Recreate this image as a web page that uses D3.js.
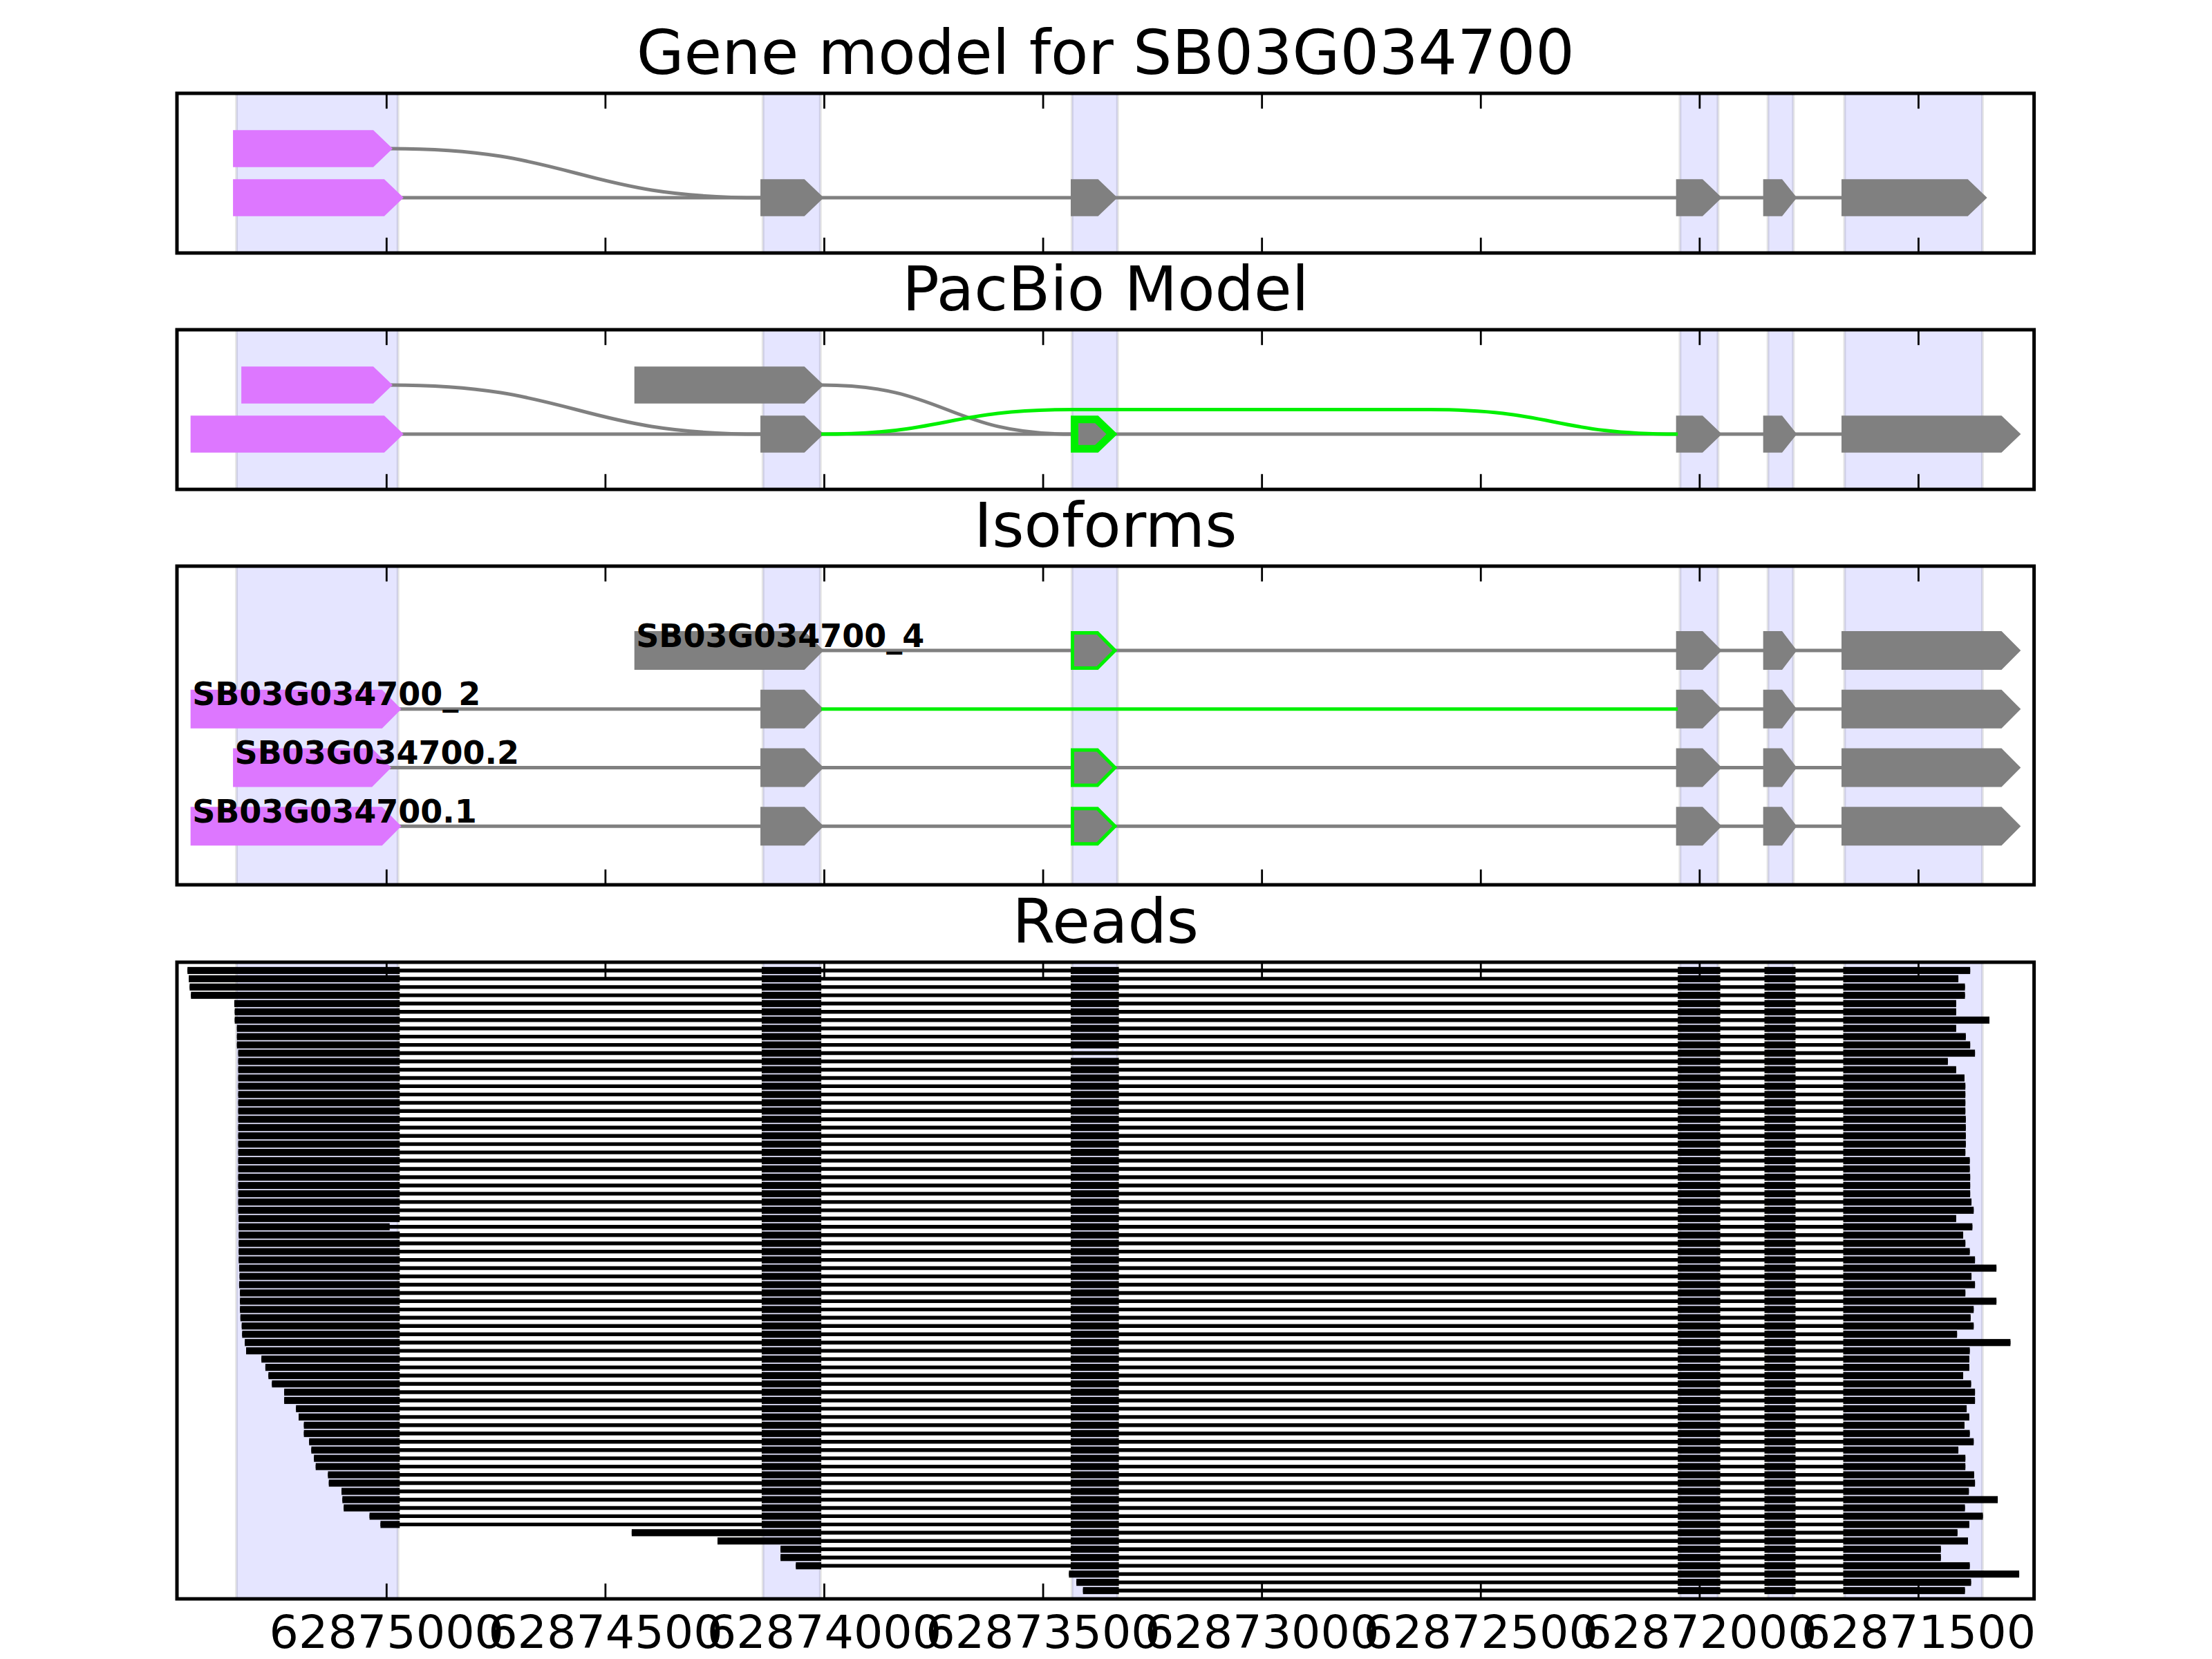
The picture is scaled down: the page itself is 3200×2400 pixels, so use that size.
<!DOCTYPE html>
<html>
<head>
<meta charset="utf-8">
<script src="https://cdn.jsdelivr.net/npm/d3@7"></script>
<style>
  html, body { margin: 0; padding: 0; background: #ffffff; }
  svg { display: block; }
  text { font-family: "DejaVu Sans", "Liberation Sans", sans-serif; }
</style>
</head>
<body>
<svg id="chart"></svg>
<script>
// ---------------- DATA ----------------
const tickValues = [62875000, 62874500, 62874000, 62873500, 62873000, 62872500, 62872000, 62871500];
const xDomain = [62875479, 62871236];

const panelTitles = ["Gene model for SB03G034700", "PacBio Model", "Isoforms", "Reads"];

// shaded exon regions [start, end]
const exonBands = [
  [62875343, 62874974],
  [62874140, 62874009],
  [62873434, 62873330],
  [62872045, 62871958],
  [62871844, 62871786],
  [62871669, 62871354]
];

// [row, start, end, kind]
const geneModelExons = [
  [1, 62875347, 62874992, "utr"],
  [0, 62875347, 62874967, "utr"],
  [0, 62874142, 62874007, "cds"],
  [0, 62873433, 62873336, "cds"],
  [0, 62872050, 62871955, "cds"],
  [0, 62871851, 62871783, "cds"],
  [0, 62871672, 62871349, "cds"]
];
// junction waypoints [position, row]
const geneModelJunctions = [
  { kind: "normal", pts: [[62874992, 1], [62874142, 0]] },
  { kind: "normal", pts: [[62874967, 0], [62874142, 0]] },
  { kind: "normal", pts: [[62874007, 0], [62873433, 0]] },
  { kind: "normal", pts: [[62873336, 0], [62872050, 0]] },
  { kind: "normal", pts: [[62871955, 0], [62871851, 0]] },
  { kind: "normal", pts: [[62871783, 0], [62871672, 0]] }
];

const pacbioExons = [
  [1, 62875328, 62874992, "utr"],
  [1, 62874430, 62874007, "cds"],
  [0, 62875444, 62874967, "utr"],
  [0, 62874142, 62874007, "cds"],
  [0, 62873433, 62873336, "alt"],
  [0, 62872050, 62871955, "cds"],
  [0, 62871851, 62871783, "cds"],
  [0, 62871672, 62871272, "cds"]
];
const pacbioJunctions = [
  { kind: "normal", pts: [[62874992, 1], [62874142, 0]] },
  { kind: "normal", pts: [[62874007, 1], [62873433, 0]] },
  { kind: "normal", pts: [[62874967, 0], [62874142, 0]] },
  { kind: "normal", pts: [[62874007, 0], [62873433, 0]] },
  { kind: "normal", pts: [[62873336, 0], [62872050, 0]] },
  { kind: "normal", pts: [[62871955, 0], [62871851, 0]] },
  { kind: "normal", pts: [[62871783, 0], [62871672, 0]] },
  { kind: "alt", pts: [[62874007, 0], [62873433, 0.5], [62872618, 0.5], [62872050, 0]] }
];

const isoformNames = ["SB03G034700_4", "SB03G034700_2", "SB03G034700.2", "SB03G034700.1"];
const isoformRows = [3, 2, 1, 0];
const isoformStarts = [62874430, 62875444, 62875347, 62875444];
const isoformExons = [
  [3, 62874430, 62874007, "cds"], [3, 62873433, 62873336, "alt"], [3, 62872050, 62871955, "cds"], [3, 62871851, 62871783, "cds"], [3, 62871672, 62871272, "cds"],
  [2, 62875444, 62874972, "utr"], [2, 62874142, 62874007, "cds"], [2, 62872050, 62871955, "cds"], [2, 62871851, 62871783, "cds"], [2, 62871672, 62871272, "cds"],
  [1, 62875347, 62874995, "utr"], [1, 62874142, 62874007, "cds"], [1, 62873433, 62873336, "alt"], [1, 62872050, 62871955, "cds"], [1, 62871851, 62871783, "cds"], [1, 62871672, 62871272, "cds"],
  [0, 62875444, 62874972, "utr"], [0, 62874142, 62874007, "cds"], [0, 62873433, 62873336, "alt"], [0, 62872050, 62871955, "cds"], [0, 62871851, 62871783, "cds"], [0, 62871672, 62871272, "cds"]
];
const isoformJunctions = [
  { kind: "normal", pts: [[62874007, 3], [62873433, 3]] },
  { kind: "normal", pts: [[62873336, 3], [62872050, 3]] },
  { kind: "normal", pts: [[62871955, 3], [62871851, 3]] },
  { kind: "normal", pts: [[62871783, 3], [62871672, 3]] },
  { kind: "normal", pts: [[62874972, 2], [62874142, 2]] },
  { kind: "alt",    pts: [[62874007, 2], [62872050, 2]] },
  { kind: "normal", pts: [[62871955, 2], [62871851, 2]] },
  { kind: "normal", pts: [[62871783, 2], [62871672, 2]] },
  { kind: "normal", pts: [[62874995, 1], [62874142, 1]] },
  { kind: "normal", pts: [[62874007, 1], [62873433, 1]] },
  { kind: "normal", pts: [[62873336, 1], [62872050, 1]] },
  { kind: "normal", pts: [[62871955, 1], [62871851, 1]] },
  { kind: "normal", pts: [[62871783, 1], [62871672, 1]] },
  { kind: "normal", pts: [[62874972, 0], [62874142, 0]] },
  { kind: "normal", pts: [[62874007, 0], [62873433, 0]] },
  { kind: "normal", pts: [[62873336, 0], [62872050, 0]] },
  { kind: "normal", pts: [[62871955, 0], [62871851, 0]] },
  { kind: "normal", pts: [[62871783, 0], [62871672, 0]] }
];

// Reads (top to bottom)
const readStarts = [
  62875455, 62875452, 62875450, 62875447, 62875348, 62875347, 62875347, 62875342, 62875342, 62875342,
  62875339, 62875339, 62875339, 62875339, 62875339, 62875339, 62875339, 62875339, 62875339, 62875339,
  62875339, 62875339, 62875339, 62875339, 62875339, 62875339, 62875339, 62875339, 62875339, 62875339,
  62875338, 62875338, 62875338, 62875338, 62875338, 62875338, 62875337, 62875336, 62875337, 62875335,
  62875335, 62875335, 62875334, 62875331, 62875330, 62875324, 62875321, 62875286, 62875277, 62875270,
  62875262, 62875234, 62875234, 62875207, 62875201, 62875189, 62875189, 62875177, 62875172, 62875166,
  62875162, 62875134, 62875132, 62875103, 62875101, 62875098, 62875039, 62875014, 62874440, 62874244,
  62874100, 62874100, 62874065, 62873441, 62873424, 62873409
];
const readEnds = [
  62871382, 62871409, 62871394, 62871394, 62871414, 62871414, 62871338, 62871414, 62871392, 62871382,
  62871371, 62871433, 62871414, 62871395, 62871393, 62871393, 62871393, 62871393, 62871392, 62871392,
  62871392, 62871392, 62871393, 62871383, 62871383, 62871382, 62871382, 62871382, 62871379, 62871374,
  62871414, 62871377, 62871398, 62871393, 62871383, 62871371, 62871322, 62871379, 62871371, 62871393,
  62871322, 62871374, 62871381, 62871374, 62871412, 62871290, 62871383, 62871384, 62871384, 62871398,
  62871380, 62871371, 62871371, 62871390, 62871384, 62871395, 62871383, 62871374, 62871409, 62871393,
  62871393, 62871373, 62871371, 62871385, 62871319, 62871394, 62871353, 62871384, 62871411, 62871387,
  62871449, 62871449, 62871383, 62871270, 62871380, 62871394
];
const readFirstExonEnd = 62874970;
const readFirstExonEndShort = 62874993;
const readsWithShortFirstExon = [31];
const readsSkippingExon3 = [10];
const readInternalExons = [
  [62874143, 62874007],
  [62873437, 62873327],
  [62872050, 62871953],
  [62871852, 62871781]
];
const readLastExonStart = 62871672;

// ---------------- LAYOUT / STYLE ----------------
const W = 3200, H = 2400;
const axL = 256, axR = 2942.6;
const panels = [
  { top: 135,  bottom: 366,  yDomain: [-1.125, 2.125] },
  { top: 477,  bottom: 708,  yDomain: [-1.125, 2.125] },
  { top: 819,  bottom: 1280, yDomain: [-1, 4.44] },
  { top: 1392, bottom: 2313, yDomain: [76, -1] }
];
const colors = { utr: "#DD77FF", cds: "#808080", alt: "#00F000", line: "#808080" };
const spineW = 5, tickLen = 22.2, tickW = 2.8;
const titleSize = 88.9, tickFont = 66.7, labelFont = 46;

const svg = d3.select("#chart").attr("width", W).attr("height", H)
  .attr("viewBox", `0 0 ${W} ${H}`);
svg.append("rect").attr("width", W).attr("height", H).attr("fill", "#ffffff");

const x = d3.scaleLinear().domain(xDomain).range([axL, axR]);
const headPx = Math.abs(x(xDomain[0]) - x(xDomain[0] - 40));

function exonPath(s, e, yc, h) {
  const x0 = x(s), x1 = x(e);
  const L = Math.min(headPx, 0.45 * (x1 - x0));
  const xf = x1 - L;
  return `M${x0},${yc - h}L${xf},${yc - h}L${x1},${yc}L${xf},${yc + h}L${x0},${yc + h}Z`;
}
function insetPath(s, e, yc, h, k) {
  const x0 = x(s), x1 = x(e);
  const L = Math.min(headPx, 0.45 * (x1 - x0));
  const t = x1 - k * Math.sqrt(L * L + h * h) / h;
  const xf2 = t - (h - k) * L / h;
  return `M${x0 + k},${yc - h + k}L${xf2},${yc - h + k}L${t},${yc}L${xf2},${yc + h - k}L${x0 + k},${yc + h - k}Z`;
}
function connectorPath(pts) {
  let d = `M${pts[0][0]},${pts[0][1]}`;
  for (let i = 1; i < pts.length; i++) {
    const [xa, ya] = pts[i - 1], [xb, yb] = pts[i];
    if (Math.abs(ya - yb) < 0.01) d += `L${xb},${yb}`;
    else { const xm = (xa + xb) / 2; d += `C${xm},${ya} ${xm},${yb} ${xb},${yb}`; }
  }
  return d;
}

const defs = svg.append("defs");

function setupPanel(idx) {
  const p = panels[idx];
  const y = d3.scaleLinear().domain(p.yDomain).range([p.bottom, p.top]);
  const g = svg.append("g");
  defs.append("clipPath").attr("id", "clip" + idx)
    .append("rect").attr("x", axL).attr("y", p.top).attr("width", axR - axL).attr("height", p.bottom - p.top);
  const inner = g.append("g").attr("clip-path", `url(#clip${idx})`);
  inner.append("g").selectAll("rect").data(exonBands).join("rect")
    .attr("x", d => x(d[0])).attr("width", d => x(d[1]) - x(d[0]))
    .attr("y", p.top - 10).attr("height", p.bottom - p.top + 20)
    .attr("fill", "#0000ff").attr("fill-opacity", 0.1)
    .attr("stroke", "#000000").attr("stroke-opacity", 0.1).attr("stroke-width", 4);
  svg.append("text").attr("x", (axL + axR) / 2).attr("y", p.top - 27.8)
    .attr("text-anchor", "middle").attr("font-size", titleSize).attr("fill", "#000")
    .text(panelTitles[idx]);
  return { p, y, g, inner };
}

function finishPanel(ctx, withLabels) {
  const { p, g } = ctx;
  const ax = g.append("g");
  ax.selectAll("line.tt").data(tickValues).join("line").attr("class", "tt")
    .attr("x1", d => x(d)).attr("x2", d => x(d)).attr("y1", p.top).attr("y2", p.top + tickLen)
    .attr("stroke", "#000").attr("stroke-width", tickW);
  ax.selectAll("line.tb").data(tickValues).join("line").attr("class", "tb")
    .attr("x1", d => x(d)).attr("x2", d => x(d)).attr("y1", p.bottom).attr("y2", p.bottom - tickLen)
    .attr("stroke", "#000").attr("stroke-width", tickW);
  ax.append("rect").attr("x", axL).attr("y", p.top).attr("width", axR - axL).attr("height", p.bottom - p.top)
    .attr("fill", "none").attr("stroke", "#000").attr("stroke-width", spineW);
  if (withLabels) {
    ax.selectAll("text.tl").data(tickValues).join("text").attr("class", "tl")
      .attr("x", d => x(d)).attr("y", p.bottom + 22.2 + 48.6)
      .attr("text-anchor", "middle").attr("font-size", tickFont).attr("fill", "#000")
      .text(d => d3.format("d")(d));
  }
}

function drawModel(ctx, exons, junctions, hUnits, insetK) {
  const { y, inner } = ctx;
  const unit = Math.abs(y(1) - y(0));
  const h = hUnits * unit;
  const jn = junctions.filter(j => j.kind === "normal");
  const ja = junctions.filter(j => j.kind === "alt");
  inner.append("g").selectAll("path").data(jn).join("path")
    .attr("d", d => connectorPath(d.pts.map(q => [x(q[0]), y(q[1])])))
    .attr("fill", "none").attr("stroke", colors.line).attr("stroke-width", 5);
  const eg = inner.append("g");
  exons.forEach(([row, s, e, kind]) => {
    const yc = y(row);
    if (kind === "alt") {
      eg.append("path").attr("d", exonPath(s, e, yc, h))
        .attr("fill", colors.alt).attr("stroke", colors.alt).attr("stroke-width", 5).attr("stroke-linejoin", "miter");
      eg.append("path").attr("d", insetPath(s, e, yc, h, insetK)).attr("fill", colors.cds);
    } else {
      eg.append("path").attr("d", exonPath(s, e, yc, h))
        .attr("fill", colors[kind]).attr("stroke", colors[kind]).attr("stroke-width", 5).attr("stroke-linejoin", "miter");
    }
  });
  inner.append("g").selectAll("path").data(ja).join("path")
    .attr("d", d => connectorPath(d.pts.map(q => [x(q[0]), y(q[1])])))
    .attr("fill", "none").attr("stroke", colors.alt).attr("stroke-width", 5);
}

// Panel 1: gene model
const c1 = setupPanel(0);
drawModel(c1, geneModelExons, geneModelJunctions, 0.34, 3);
finishPanel(c1, false);

// Panel 2: PacBio
const c2 = setupPanel(1);
drawModel(c2, pacbioExons, pacbioJunctions, 0.34, 8.5);
finishPanel(c2, false);

// Panel 3: isoforms
const c3 = setupPanel(2);
drawModel(c3, isoformExons, isoformJunctions, 0.30, 2.5);
c3.g.append("g").selectAll("text").data(isoformNames).join("text")
  .attr("x", (d, i) => x(isoformStarts[i]))
  .attr("y", (d, i) => c3.y(isoformRows[i]) - 5.5)
  .attr("font-size", labelFont).attr("font-weight", "bold").attr("fill", "#000")
  .text(d => d);
finishPanel(c3, false);

// Panel 4: reads
const c4 = setupPanel(3);
const yR = c4.y;
const readBlocks = [];
readStarts.forEach((s, i) => {
  const e = readEnds[i];
  const firstEnd = readsWithShortFirstExon.includes(i) ? readFirstExonEndShort : readFirstExonEnd;
  let ex = [[Infinity, firstEnd]];
  readInternalExons.forEach((q, k) => {
    if (k === 1 && readsSkippingExon3.includes(i)) return;
    ex.push(q);
  });
  ex.push([readLastExonStart, -Infinity]);
  let first = true;
  ex.forEach(([a, b]) => {
    if (b >= s) return;
    if (a <= e) return;
    const bs = first ? s : Math.min(a, s);
    const be = Math.max(b, e);
    first = false;
    readBlocks.push({ i, s: bs, e: be });
  });
});
c4.inner.append("g").selectAll("line").data(readStarts).join("line")
  .attr("x1", d => x(d)).attr("x2", (d, i) => x(readEnds[i]))
  .attr("y1", (d, i) => yR(i)).attr("y2", (d, i) => yR(i))
  .attr("stroke", "#000").attr("stroke-width", 5.4);
const barH = 10.2;
c4.inner.append("g").selectAll("rect").data(readBlocks).join("rect")
  .attr("x", d => x(d.s)).attr("width", d => x(d.e) - x(d.s))
  .attr("y", d => yR(d.i) - barH / 2).attr("height", barH)
  .attr("fill", "#000");
finishPanel(c4, true);
</script>
</body>
</html>
